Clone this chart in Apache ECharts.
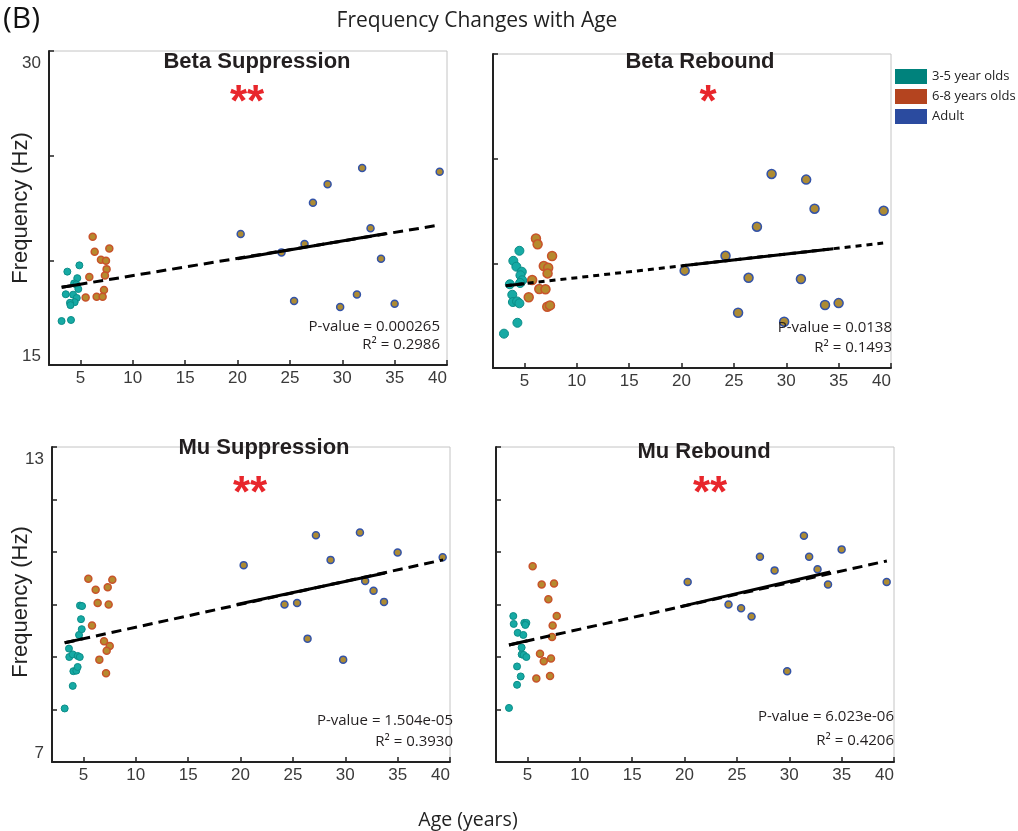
<!DOCTYPE html>
<html>
<head>
<meta charset="utf-8">
<script src="https://cdn.jsdelivr.net/npm/echarts@6/dist/echarts.min.js"></script>
<style>
  html, body { margin: 0; padding: 0; background: #fff; }
  #chart { width: 1018px; height: 831px; }
</style>
</head>
<body>
<div id="chart"></div>
<script>
// Age of each adult participant (years), shared by all four panels
const adultAges = [20.3, 24.2, 25.4, 26.4, 27.2, 28.6, 29.8, 31.4, 31.9, 32.7, 33.7, 35.0, 39.3];

// ---- Beta Suppression (Hz) ----
const betaSupYoung = [[3.2,17.1],[4.1,17.15],[3.75,19.46],[4.9,19.76],[4.7,19.15],[4.4,18.9],[4.6,18.85],[4.8,18.63],[3.6,18.38],[4.3,18.36],[4.65,18.2],[4.45,18.0],[4.0,17.97],[4.05,17.86]];
const betaSupOlder = [[6.17,21.13],[6.36,20.41],[7.76,20.56],[6.96,20.03],[7.44,19.98],[7.5,19.58],[5.85,19.2],[7.34,19.28],[7.25,18.58],[5.5,18.23],[6.55,18.26],[7.12,18.26]];
const betaSupAdult = [21.26, 20.38, 18.06, 20.78, 22.75, 23.63, 17.77, 18.37, 24.41, 21.53, 20.08, 17.93, 24.23];
const betaSupFit = [[3.21,18.71],[39.31,21.69]];
const betaSupFitSolid = [[[3.21,18.71],[5.0,18.86]], [[20.0,20.08],[34.2,21.28]]];

// ---- Beta Rebound (Hz) ----
const betaRebYoung = [[3.05,16.64],[4.33,17.16],[4.52,20.6],[3.94,20.12],[4.23,19.84],[4.75,19.6],[4.62,19.43],[4.79,19.19],[3.61,19.0],[4.59,19.06],[3.84,18.5],[3.9,18.15],[4.3,18.18],[4.52,18.09]];
const betaRebOlder = [[6.1,21.19],[6.26,20.91],[7.64,20.35],[6.85,19.87],[7.27,19.79],[7.21,19.52],[5.74,19.2],[6.42,18.77],[7.01,18.76],[5.41,18.38],[7.18,17.93],[7.44,17.99]];
const betaRebAdult = [19.65, 20.36, 17.64, 19.31, 21.75, 24.27, 17.21, 19.25, 24.0, 22.61, 18.01, 18.1, 22.51];
const betaRebFit = [[3.22,18.93],[39.25,20.97]];
const betaRebFitSolid = [[[3.22,18.93],[5.0,19.03]], [[20.08,19.88],[34.5,20.7]]];

// ---- Mu Suppression (Hz) ----
const muSupYoung = [[3.21,8.02],[3.98,8.45],[4.04,8.73],[4.32,8.74],[4.45,8.81],[3.65,9.0],[3.98,9.05],[4.45,9.02],[4.65,9.0],[3.62,9.16],[4.58,9.42],[4.84,9.53],[4.77,9.72],[4.67,9.98],[4.87,9.97]];
const muSupOlder = [[5.47,10.49],[6.17,10.28],[7.32,10.33],[7.76,10.47],[6.36,10.03],[7.41,10.0],[5.82,9.6],[6.97,9.3],[7.51,9.21],[7.22,9.12],[6.52,8.95],[7.16,8.69]];
const muSupAdult = [10.75, 10.0, 10.03, 9.35, 11.32, 10.85, 8.95, 11.37, 10.45, 10.26, 10.05, 10.99, 10.9];
const muSupFit = [[3.21,9.27],[39.34,10.85]];
const muSupFitSolid = [[[3.21,9.27],[5.0,9.35]], [[19.64,10.0],[33.8,10.6]]];

// ---- Mu Rebound (Hz) ----
const muRebYoung = [[3.24,8.03],[4.01,8.47],[4.36,8.63],[4.01,8.82],[4.45,9.05],[4.64,9.04],[4.9,9.0],[4.45,9.18],[4.07,9.46],[4.61,9.42],[3.69,9.63],[3.65,9.78],[4.7,9.65],[4.9,9.65],[4.8,9.61]];
const muRebOlder = [[5.5,10.73],[6.36,10.38],[7.54,10.4],[7.0,10.1],[7.8,9.78],[7.41,9.6],[7.35,9.38],[6.2,9.06],[6.56,8.92],[7.25,8.97],[5.85,8.59],[7.16,8.64]];
const muRebAdult = [10.43, 10.0, 9.93, 9.77, 10.91, 10.65, 8.73, 11.31, 10.91, 10.67, 10.38, 11.05, 10.43];
const muRebFit = [[3.24,9.23],[39.32,10.83]];
const muRebFitSolid = [[[3.24,9.23],[5.0,9.31]], [[19.6,9.96],[33.9,10.62]]];

// Axis ticks and labels
const ageTicks = [5, 10, 15, 20, 25, 30, 35, 40];
const betaRange = [15, 30];
const muRange = [7, 13];

const panelTitles = ['Beta Suppression', 'Beta Rebound', 'Mu Suppression', 'Mu Rebound'];
const stars = ['**', '*', '**', '**'];
const pValues = ['0.000265', '0.0138', '1.504e-05', '6.023e-06'];
const rSquared = ['0.2986', '0.1493', '0.3930', '0.4206'];
const groupNames = ['3-5 year olds', '6-8 years olds', 'Adult'];

const TICK_FONT = '"Liberation Sans", Arial, sans-serif';
const MYRIAD = '"Open Sans", "Noto Sans", sans-serif';

const panels = [
  { young: betaSupYoung, older: betaSupOlder, adult: betaSupAdult, fit: betaSupFit, solid: betaSupFitSolid,
    range: betaRange, step: 5, grid: { left: 49, top: 51, width: 398, height: 314 }, labels: true, size: 7, dash: [10, 6] },
  { young: betaRebYoung, older: betaRebOlder, adult: betaRebAdult, fit: betaRebFit, solid: betaRebFitSolid,
    range: betaRange, step: 5, grid: { left: 493, top: 54, width: 398, height: 314 }, labels: false, size: 9, dash: [6, 5] },
  { young: muSupYoung, older: muSupOlder, adult: muSupAdult, fit: muSupFit, solid: muSupFitSolid,
    range: muRange, step: 1, grid: { left: 52, top: 447, width: 398, height: 315 }, labels: true, size: 7, dash: [10, 6] },
  { young: muRebYoung, older: muRebOlder, adult: muRebAdult, fit: muRebFit, solid: muRebFitSolid,
    range: muRange, step: 1, grid: { left: 496, top: 447, width: 398, height: 315 }, labels: false, size: 7, dash: [10, 6] }
];

const grids = [], xAxes = [], yAxes = [], series = [];

panels.forEach((p, i) => {
  grids.push(Object.assign({ show: true, borderColor: '#c4c4c4', borderWidth: 1, backgroundColor: '#fff' }, p.grid));
  xAxes.push({
    type: 'value', gridIndex: i, min: 2, max: 40,
    axisLine: { show: true, onZero: false, lineStyle: { color: '#222', width: 2 } },
    axisTick: { show: true, inside: true, length: 5, customValues: ageTicks, lineStyle: { color: '#222', width: 1.5 } },
    axisLabel: { customValues: ageTicks, alignMaxLabel: 'right', color: '#3a3a3a', fontSize: 17, fontFamily: TICK_FONT, margin: 5 },
    splitLine: { show: false }
  });
  yAxes.push({
    type: 'value', gridIndex: i, min: p.range[0], max: p.range[1], interval: p.step,
    axisLine: { show: true, onZero: false, lineStyle: { color: '#222', width: 2 } },
    axisTick: { show: true, inside: true, length: 5, lineStyle: { color: '#222', width: 1.5 } },
    axisLabel: { show: p.labels, customValues: p.range, verticalAlignMaxLabel: 'top', verticalAlignMinLabel: 'bottom',
      padding: [4, 0, 0, 0], color: '#3a3a3a', fontSize: 17, fontFamily: TICK_FONT, margin: 8 },
    splitLine: { show: false }
  });

  series.push({
    name: groupNames[0], type: 'scatter', xAxisIndex: i, yAxisIndex: i, symbolSize: p.size, data: p.young,
    itemStyle: { color: '#16aaa4', borderColor: '#0b8d88', borderWidth: 1, opacity: 1 }, z: 3
  });
  series.push({
    name: groupNames[1], type: 'scatter', xAxisIndex: i, yAxisIndex: i, symbolSize: p.size, data: p.older,
    itemStyle: { color: '#b68a2e', borderColor: '#c8532b', borderWidth: 1.5, opacity: 1 }, z: 3
  });
  series.push({
    name: groupNames[2], type: 'scatter', xAxisIndex: i, yAxisIndex: i, symbolSize: p.size,
    data: adultAges.map((a, k) => [a, p.adult[k]]),
    itemStyle: { color: '#ad8b33', borderColor: '#3353a8', borderWidth: 1.5, opacity: 1 }, z: 3
  });
  // regression fit: dashed over the full age span, solid over parts of it
  series.push({
    name: 'fit' + i, type: 'line', xAxisIndex: i, yAxisIndex: i, data: p.fit, showSymbol: false, silent: true,
    lineStyle: { color: '#000', width: 3, type: p.dash }, z: 4
  });
  p.solid.forEach((seg, k) => {
    series.push({
      name: 'fitSolid' + i + '_' + k, type: 'line', xAxisIndex: i, yAxisIndex: i, data: seg, showSymbol: false, silent: true,
      lineStyle: { color: '#000', width: 3 }, z: 4
    });
  });
});

// Text annotations for each panel
const titlePos = [[257, 62], [700, 62], [264, 448], [704, 452]];
const starPos = [[247, 95], [708, 95], [250, 486], [710, 486]];
const statPos = [[440, 327, 345], [892, 328, 348], [453, 721, 742], [894, 717, 741]];

const graphics = [
  { type: 'text', x: 3, y: 19, style: { text: '(B)', font: '30px ' + MYRIAD, fill: '#111', verticalAlign: 'middle' } },
  { type: 'text', x: 477, y: 21, style: { text: 'Frequency Changes with Age', font: '21px ' + MYRIAD, fill: '#222', align: 'center', verticalAlign: 'middle' } },
  { type: 'text', x: 468, y: 820, style: { text: 'Age (years)', font: '19.5px ' + MYRIAD, fill: '#222', align: 'center', verticalAlign: 'middle' } },
  { type: 'text', x: 21, y: 208, rotation: Math.PI / 2, style: { text: 'Frequency (Hz)', font: '22px ' + TICK_FONT, fill: '#222', align: 'center', verticalAlign: 'middle' } },
  { type: 'text', x: 21, y: 602, rotation: Math.PI / 2, style: { text: 'Frequency (Hz)', font: '22px ' + TICK_FONT, fill: '#222', align: 'center', verticalAlign: 'middle' } }
];
panels.forEach((p, i) => {
  graphics.push({ type: 'text', x: titlePos[i][0], y: titlePos[i][1], z: 10,
    style: { text: panelTitles[i], font: 'bold 22px ' + TICK_FONT, fill: '#231f20', align: 'center', verticalAlign: 'middle' } });
  graphics.push({ type: 'text', x: starPos[i][0], y: starPos[i][1] + 9, z: 10,
    style: { text: stars[i], font: 'bold 44px ' + TICK_FONT, fill: '#e8262b', align: 'center', verticalAlign: 'middle' } });
  graphics.push({ type: 'text', x: statPos[i][0], y: statPos[i][1], z: 10,
    style: { text: 'P-value = ' + pValues[i], font: '15px ' + MYRIAD, fill: '#231f20', align: 'right', verticalAlign: 'middle' } });
  graphics.push({ type: 'text', x: statPos[i][0], y: statPos[i][2], z: 10,
    style: { text: 'R\u00b2 = ' + rSquared[i], font: '15px ' + MYRIAD, fill: '#231f20', align: 'right', verticalAlign: 'middle' } });
});

const chart = echarts.init(document.getElementById('chart'), null, { renderer: 'canvas' });
chart.setOption({
  animation: false,
  backgroundColor: '#fff',
  grid: grids,
  xAxis: xAxes,
  yAxis: yAxes,
  legend: {
    orient: 'vertical', left: 895, top: 69, padding: 0, icon: 'rect',
    itemWidth: 32, itemHeight: 15, itemGap: 5,
    textStyle: { fontFamily: MYRIAD, fontSize: 13, color: '#222' },
    data: [
      { name: groupNames[0], itemStyle: { color: '#00827c', borderWidth: 0, opacity: 1 } },
      { name: groupNames[1], itemStyle: { color: '#b4441f', borderWidth: 0, opacity: 1 } },
      { name: groupNames[2], itemStyle: { color: '#2b4b9f', borderWidth: 0, opacity: 1 } }
    ]
  },
  graphic: graphics,
  series: series
});
</script>
</body>
</html>
